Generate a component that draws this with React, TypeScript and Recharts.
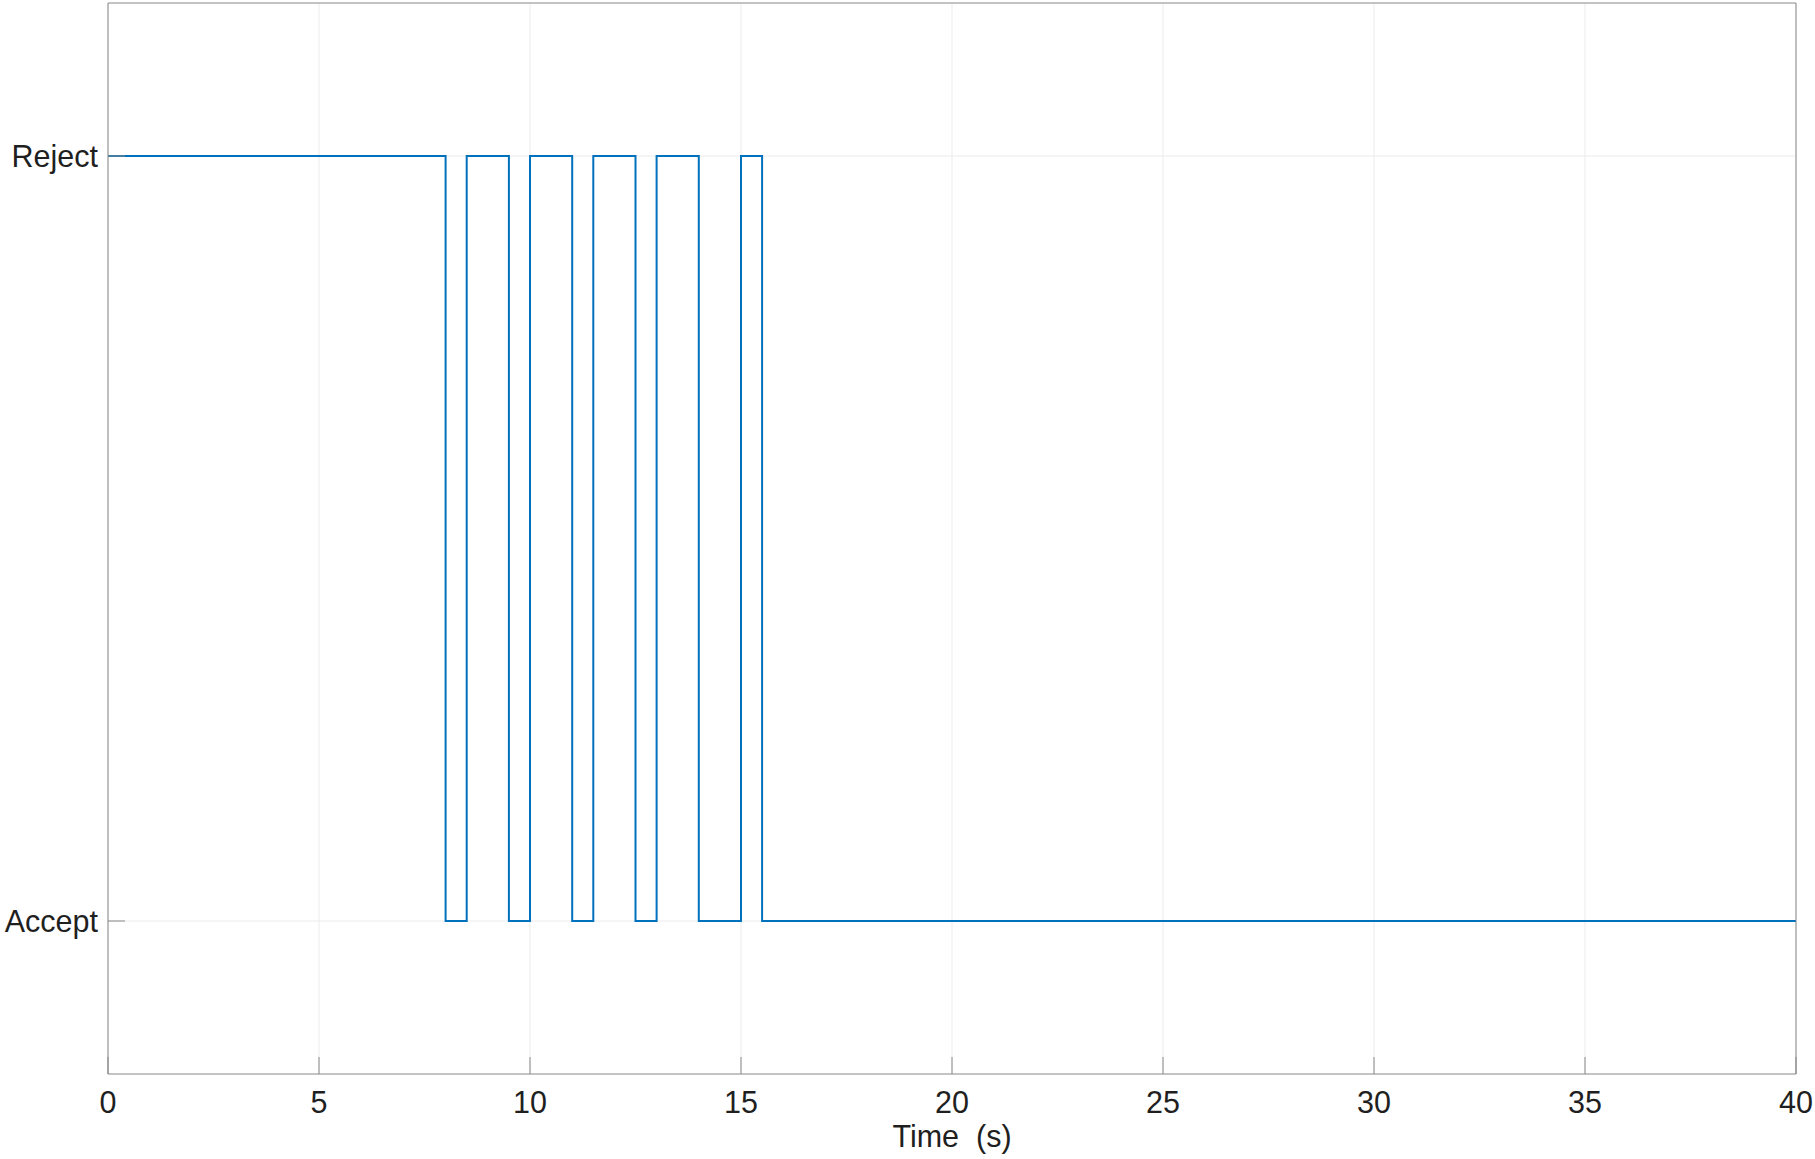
import React from 'react';
import { LineChart, Line, XAxis, YAxis, CartesianGrid } from 'recharts';

// switching times (s) and the decision held from each time on (1 = Reject, 0 = Accept)
const times = [0, 8, 8.5, 9.5, 10, 11, 11.5, 12.5, 13, 14, 15, 15.5, 40];
const decision = [1, 0, 1, 0, 1, 0, 1, 0, 1, 0, 1, 0, 0];

const timeTicks = [0, 5, 10, 15, 20, 25, 30, 35, 40];
const decisionTicks = [0, 1];
const decisionLabels = ['Accept', 'Reject'];

const data = times.map((t, i) => ({ t, value: decision[i] }));

const FONT = '"Liberation Sans", Arial, Helvetica, sans-serif';
const AXIS = '#888888';
const TEXT = '#1f1f1f';

export default function App() {
  const tickStyle = { fontSize: 30.5, fill: TEXT, fontFamily: FONT };
  return (
    <div style={{ position: 'absolute', left: 0, top: 0, background: '#fff' }}>
      <LineChart
        width={1815}
        height={1159}
        data={data}
        margin={{ top: 2, right: 18, left: 8, bottom: 5 }}
      >
        <CartesianGrid stroke="#ebebeb" strokeWidth={1} horizontalValues={decisionTicks} verticalValues={timeTicks} />
        <XAxis
          dataKey="t"
          type="number"
          domain={[0, 40]}
          ticks={timeTicks}
          allowDataOverflow
          height={80}
          tickSize={-17}
          tickMargin={34}
          stroke={AXIS}
          tick={tickStyle}
          label={{
            value: 'Time\u00a0\u00a0(s)',
            position: 'insideBottom',
            offset: 7,
            fontSize: 30.5,
            fill: TEXT,
            fontFamily: FONT,
          }}
        />
        <XAxis
          xAxisId="top"
          orientation="top"
          type="number"
          domain={[0, 40]}
          ticks={timeTicks}
          allowDataOverflow
          height={1}
          tickSize={-17}
          tick={false}
          stroke={AXIS}
        />
        <YAxis
          type="number"
          domain={[-0.2, 1.2]}
          ticks={decisionTicks}
          allowDataOverflow
          width={100}
          tickSize={-17}
          tickMargin={27}
          stroke={AXIS}
          tick={tickStyle}
          tickFormatter={(v: number) => decisionLabels[v] ?? ''}
        />
        <YAxis
          yAxisId="right"
          orientation="right"
          type="number"
          domain={[-0.2, 1.2]}
          ticks={decisionTicks}
          allowDataOverflow
          width={1}
          tickSize={-17}
          tick={false}
          stroke={AXIS}
        />
        <Line
          type="stepAfter"
          dataKey="value"
          stroke="#0072BD"
          strokeWidth={2}
          dot={false}
          activeDot={false}
          isAnimationActive={false}
        />
      </LineChart>
    </div>
  );
}
